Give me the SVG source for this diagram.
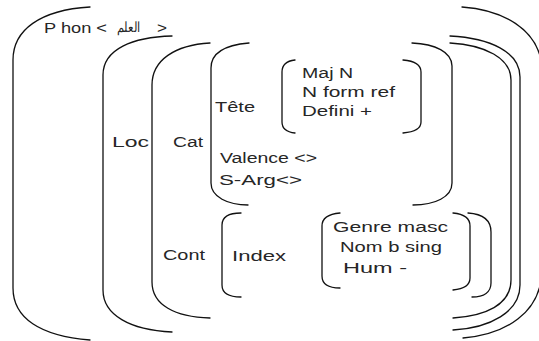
<svg xmlns="http://www.w3.org/2000/svg" width="539" height="341" viewBox="0 0 539 341">
<style>
.b{fill:none;stroke:#111;stroke-width:1.3;stroke-linecap:round;stroke-linejoin:round}
.t{font-family:"Liberation Sans",Arial,"Noto Sans",sans-serif;font-size:14px;fill:#262626}
</style>
<rect width="539" height="341" fill="#fff"/>
<g id="phon-level">
<path class="b" d="M90 7 C40 10,13 30,13 60 L13 288 C13 318,40 336,90 340"/>
<path class="b" d="M462 7 C505 10,535 30,541 60 L541 280 C537 310,510 334,463 338"/>
<text class="t" x="44" y="33" textLength="63" lengthAdjust="spacingAndGlyphs">P hon &lt;</text>
<text class="t" x="128.5" y="32" text-anchor="middle" textLength="24" lengthAdjust="spacingAndGlyphs" font-size="16" font-family="'Noto Sans','DejaVu Sans',sans-serif">العلم</text>
<text class="t" x="157" y="33" textLength="10" lengthAdjust="spacingAndGlyphs">&gt;</text>
</g>
<g id="loc">
<path class="b" d="M172 36 C133 37,103 49,103 75 L103 290 C103 315,130 330,172 332"/>
<path class="b" d="M450 36 C490 38,520 52,520 77 L520 285 C520 312,490 328,453 330"/>
<text class="t" x="112" y="147" textLength="37" lengthAdjust="spacingAndGlyphs">Loc</text>
</g>
<g id="cat-cont">
<path class="b" d="M210 43 C175 45,152 60,152 85 L152 282 C152 305,175 317,210 318"/>
<path class="b" d="M450 43 C485 45,511 58,511 80 L511 280 C511 305,485 316,453 318"/>
<text class="t" x="173" y="147" textLength="30" lengthAdjust="spacingAndGlyphs">Cat</text>
<text class="t" x="163" y="260" textLength="42" lengthAdjust="spacingAndGlyphs">Cont</text>
</g>
<g id="cat-value">
<path class="b" d="M249 43 C225 45,211 52,211 68 L211 183 C211 197,228 205,248 205"/>
<path class="b" d="M412 43 C435 44,452 52,452 66 L452 183 C452 197,435 205,413 205"/>
<text class="t" x="215" y="112" textLength="40" lengthAdjust="spacingAndGlyphs">Tête</text>
<text class="t" x="220" y="163" textLength="97" lengthAdjust="spacingAndGlyphs">Valence  &lt;&gt;</text>
<text class="t" x="219" y="185" textLength="83" lengthAdjust="spacingAndGlyphs">S-Arg&lt;&gt;</text>
</g>
<g id="tete-value">
<path class="b" d="M295 60 C286 61,282 65,282 72 L282 122 C282 128,286 132,295 133"/>
<path class="b" d="M403 60 C415 61,421 65,421 72 L421 122 C421 128,415 132,403 133"/>
<text class="t" x="302" y="78" textLength="51" lengthAdjust="spacingAndGlyphs">Maj  N</text>
<text class="t" x="302" y="97" textLength="93" lengthAdjust="spacingAndGlyphs">N form ref</text>
<text class="t" x="302" y="116" textLength="70" lengthAdjust="spacingAndGlyphs">Defini +</text>
</g>
<g id="cont-value">
<path class="b" d="M241 213 C228 213,222 217,222 225 L222 285 C222 293,228 297,241 297"/>
<path class="b" d="M468 213 C483 214,491 220,491 232 L491 283 C491 292,484 297,472 297"/>
<text class="t" x="232" y="261" textLength="54" lengthAdjust="spacingAndGlyphs">Index</text>
</g>
<g id="index-value">
<path class="b" d="M340 213 C328 214,322 218,322 226 L322 276 C322 284,328 288,340 288"/>
<path class="b" d="M453 213 C464 214,470 218,470 226 L470 278 C470 285,464 289,453 290"/>
<text class="t" x="333" y="232" textLength="115" lengthAdjust="spacingAndGlyphs">Genre masc</text>
<text class="t" x="340" y="252" textLength="102" lengthAdjust="spacingAndGlyphs">Nom b sing</text>
<text class="t" x="343" y="273" textLength="64" lengthAdjust="spacingAndGlyphs">Hum  -</text>
</g>
</svg>
